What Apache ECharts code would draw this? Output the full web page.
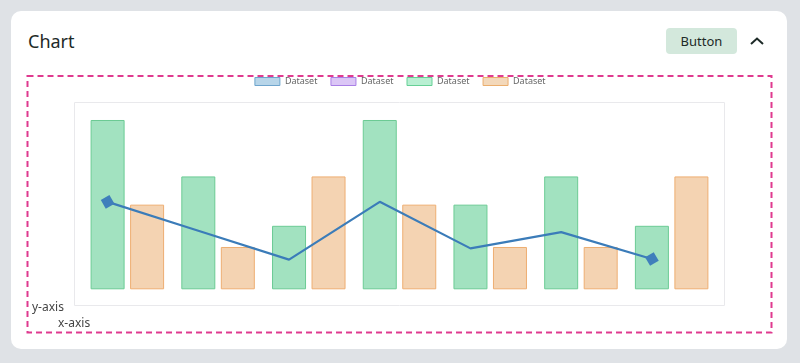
<!DOCTYPE html>
<html>
<head>
<meta charset="utf-8">
<script src="https://cdn.jsdelivr.net/npm/echarts@6/dist/echarts.min.js"></script>
<style>
  html, body { margin: 0; padding: 0; width: 800px; height: 363px; background: #dfe2e6; overflow: hidden; font-family: "Noto Sans", "Open Sans", sans-serif; }
  .card { position: absolute; left: 11px; top: 11px; width: 776px; height: 338px; background: #fff; border-radius: 10px; }
  .title { position: absolute; left: 28px; top: 29px; font-size: 18px; color: #1d2a27; line-height: 24px; }
  .btn { position: absolute; left: 666px; top: 28px; width: 71px; height: 26px; background: #d3e8dc; border-radius: 4px; font-size: 13px; color: #1d2a27; text-align: center; line-height: 26px; }
  .chev { position: absolute; left: 749px; top: 36px; }
  .dash { position: absolute; left: 0; top: 0; }
  #chart { position: absolute; left: 0; top: 0; width: 800px; height: 363px; }
</style>
</head>
<body>
<div class="card"></div>
<div class="title">Chart</div>
<div class="btn">Button</div>
<svg class="chev" width="16" height="10" viewBox="0 0 16 10"><polyline points="2,8 8,2.5 14,8" fill="none" stroke="#1d2a27" stroke-width="2"/></svg>
<svg class="dash" width="800" height="363"><rect x="27.5" y="76" width="744" height="256.5" fill="none" stroke="#df3a8f" stroke-width="2" stroke-dasharray="6 4"/></svg>
<div id="chart"></div>
<script>
const categories = ['A', 'B', 'C', 'D', 'E', 'F', 'G'];
const lineValues = [12.4, 8.3, 4.2, 12.4, 5.8, 8.1, 4.3];
const purpleValues = [];
const greenValues = [24, 16, 9, 24, 12, 16, 9];
const orangeValues = [12, 6, 16, 12, 6, 6, 16];
const legendLabel = 'Dataset';
const yAxisLabel = 'y-axis';
const xAxisLabel = 'x-axis';

const gridTop = 120, gridBottom = 73.7, gridLeft = 82, gridRight = 83;
const barW = 34, barGapPx = 5.5;
const lineShift = (barW + barGapPx) / 2; // line sits over the first bar of each group

const chart = echarts.init(document.getElementById('chart'), null, { renderer: 'canvas' });
const hiddenAxis = { show: false };
chart.setOption({
  animation: false,
  backgroundColor: 'transparent',
  legend: {
    top: 72,
    left: 'center',
    itemWidth: 25,
    itemHeight: 8,
    itemGap: 13,
    textStyle: { fontSize: 9, color: '#666', fontFamily: 'Noto Sans' },
    formatter: () => legendLabel,
    data: [
      { name: 'd1', icon: 'rect', itemStyle: { color: '#b7d5e9', borderColor: '#6fa5cd', borderWidth: 1 } },
      { name: 'd2', icon: 'rect', itemStyle: { color: '#dbc6f6', borderColor: '#a97fe6', borderWidth: 1 } },
      { name: 'd3', icon: 'rect', itemStyle: { color: '#b8efd2', borderColor: '#66d096', borderWidth: 1 } },
      { name: 'd4', icon: 'rect', itemStyle: { color: '#f3d8ba', borderColor: '#ebae6d', borderWidth: 1 } }
    ]
  },
  grid: [
    { left: gridLeft, right: gridRight, top: gridTop, bottom: gridBottom },
    { left: gridLeft - lineShift, right: gridRight + lineShift, top: gridTop, bottom: gridBottom }
  ],
  xAxis: [
    { type: 'category', data: categories, gridIndex: 0, ...hiddenAxis },
    { type: 'category', data: categories, gridIndex: 1, ...hiddenAxis }
  ],
  yAxis: [
    { type: 'value', min: 0, max: 24, gridIndex: 0, ...hiddenAxis },
    { type: 'value', min: 0, max: 24, gridIndex: 1, ...hiddenAxis }
  ],
  graphic: [
    { type: 'rect', shape: { x: 74.5, y: 102.5, width: 650, height: 203 }, style: { fill: 'none', stroke: '#e9e9ec', lineWidth: 1 }, z: -1 },
    { type: 'text', left: 32, top: 302, style: { text: yAxisLabel, fontSize: 12, fill: '#444', fontFamily: 'Noto Sans' } },
    { type: 'text', left: 58, top: 318, style: { text: xAxisLabel, fontSize: 12, fill: '#444', fontFamily: 'Noto Sans' } }
  ],
  series: [
    {
      name: 'd1', type: 'line', xAxisIndex: 1, yAxisIndex: 1, data: lineValues,
      z: 5,
      lineStyle: { color: '#3b7cb9', width: 2.2 },
      itemStyle: { color: '#3f7fbb' },
      symbol: 'rect', symbolRotate: 30,
      showAllSymbol: true,
      symbolSize: (v, p) => (p.dataIndex === 0 || p.dataIndex === lineValues.length - 1) ? 10 : 0
    },
    { name: 'd2', type: 'line', xAxisIndex: 1, yAxisIndex: 1, data: purpleValues, itemStyle: { color: '#a97fe6' } },
    {
      name: 'd3', type: 'bar', xAxisIndex: 0, yAxisIndex: 0, data: greenValues,
      barWidth: barW, barGap: (barGapPx / barW * 100) + '%',
      itemStyle: { color: '#a2e2c0', borderColor: '#6ccb94', borderWidth: 1 }
    },
    {
      name: 'd4', type: 'bar', xAxisIndex: 0, yAxisIndex: 0, data: orangeValues,
      barWidth: barW,
      itemStyle: { color: '#f4d3b2', borderColor: '#eeae72', borderWidth: 1 }
    }
  ]
});
</script>
</body>
</html>
